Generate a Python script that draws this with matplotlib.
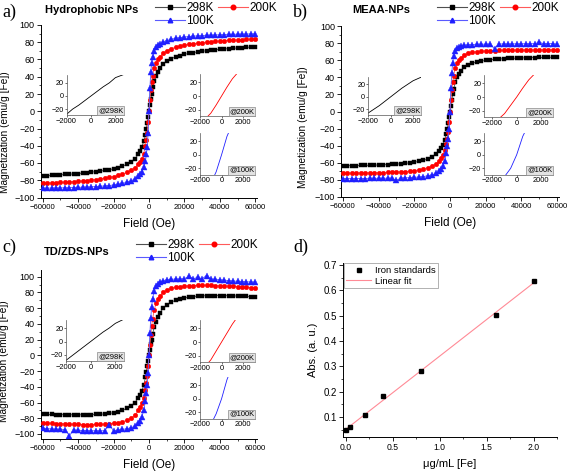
import numpy as np
import matplotlib
matplotlib.use("Agg")
import matplotlib.pyplot as plt
from matplotlib.lines import Line2D
from matplotlib.ticker import MultipleLocator

plt.rcParams['font.family'] = ['Liberation Sans', 'DejaVu Sans']

# ---------------- data ----------------
field = [-60000, -57500, -55000, -52500, -50000, -47500, -45000, -42500, -40000, -37500,
         -35000, -32500, -30000, -27500, -25000, -22500, -20000, -17500, -15000, -12500,
         -10000, -8000, -6000, -5000, -4000, -3000, -2000, -1500, -1000, -500,
         0,
         500, 1000, 1500, 2000, 3000, 4000, 5000, 6000, 8000,
         10000, 12500, 15000, 17500, 20000, 22500, 25000, 27500, 30000, 32500,
         35000, 37500, 40000, 42500, 45000, 47500, 50000, 52500, 55000, 57500, 60000]

a_298K = [-74.8, -74.6, -74.3, -74, -73.7, -73.3, -73, -72.6, -72.2, -71.7,
          -71.2, -70.6, -70, -69.3, -68.6, -67.8, -66.8, -65.6, -63.8, -61.5,
          -58.5, -55, -50, -46, -41, -35, -28, -20, -14, -7,
          0,
          7, 14, 20, 28, 35, 41, 46, 50, 55,
          58, 61, 63, 64.5, 66, 67, 68, 68.8, 69.5, 70.2,
          70.8, 71.3, 71.8, 72.2, 72.6, 73, 73.4, 73.8, 74.1, 74.4, 74.7]
a_200K = [-83.5, -83.3, -83.1, -82.9, -82.6, -82.3, -82, -81.6, -81.2, -80.8,
          -80.3, -79.8, -79.2, -78.5, -77.7, -76.8, -75.7, -74.4, -72.8, -70.8,
          -68.5, -65.5, -61.5, -58.5, -55, -49, -40, -33, -25, -13,
          0,
          13, 25, 34, 41, 50, 56, 60, 63, 67,
          70, 72.5, 74.2, 75.5, 76.6, 77.5, 78.3, 79, 79.6, 80.1,
          80.6, 81, 81.4, 81.8, 82.1, 82.4, 82.7, 83, 83.2, 83.4, 83.6]
a_100K = [-89.3, -89.2, -89.1, -89, -88.9, -88.8, -88.6, -88.5, -88.3, -88.1,
          -87.9, -87.6, -87.3, -87, -86.6, -86.1, -85.5, -84.7, -83.7, -82.3,
          -80.5, -78.5, -75.5, -73, -70, -65, -58, -50, -42, -25,
          0,
          27, 45, 56, 63, 70, 74, 76.5, 78, 80.5,
          82, 83.5, 84.6, 85.4, 86, 86.6, 87, 87.4, 87.7, 88,
          88.2, 88.4, 88.6, 88.8, 89, 89.1, 89.3, 89.4, 89.5, 89.6, 89.7]

b_298K = [-63.5, -63.4, -63.3, -63.2, -63.1, -63, -62.9, -62.7, -62.5, -62.3,
          -62.1, -61.8, -61.5, -61.1, -60.6, -60, -59.3, -58.4, -57.2, -55.5,
          -53, -50, -46, -43, -39, -33, -26, -20, -14, -7,
          0,
          7, 14, 20, 26, 34, 40, 44, 47.5, 52,
          54.5, 56.5, 58, 59, 59.8, 60.5, 61, 61.4, 61.7, 62,
          62.2, 62.4, 62.6, 62.8, 63, 63.1, 63.2, 63.3, 63.4, 63.5, 63.6]
b_200K = [-72, -72, -72, -71.9, -71.9, -71.8, -71.8, -71.7, -71.6, -71.5,
          -71.3, -71.1, -70.9, -70.6, -70.2, -69.8, -69.2, -68.4, -67.3, -65.8,
          -63.8, -61.5, -57.5, -54.5, -50.5, -45, -38, -32, -24, -12,
          0,
          13, 25, 34, 42, 51, 56.5, 60, 62.5, 66,
          68, 69.2, 70, 70.4, 70.8, 71, 71.2, 71.4, 71.5, 71.6,
          71.7, 71.8, 71.8, 71.9, 71.9, 72, 72, 72, 72.1, 72.1, 72.1]
b_100K = [-78.5, -78.5, -78.5, -78.4, -78.4, -78.4, -78.3, -78.3, -78.2, -78.2,
          -78.1, -78, -80.5, -77.8, -77.6, -77.4, -77.1, -76.7, -76.1, -75.2,
          -74, -72.5, -70, -67.5, -64, -58, -48, -40, -32, -20,
          0,
          27, 45, 57, 65, 71, 74, 75.5, 76.5, 77.5,
          78, 78.3, 78.5, 78.6, 78.7, 78.8, 73.5, 78.9, 79, 79,
          79.1, 79.1, 79.2, 79.2, 79.3, 79.3, 81, 79.4, 79.4, 79.4, 78.5]

c_298K = [-75, -75.1, -75.2, -75.3, -75.4, -75.5, -75.6, -75.6, -75.6, -75.6,
          -75.5, -75.4, -75.2, -74.9, -74.5, -73.9, -73, -71.8, -70, -67.5,
          -64, -60, -54, -50, -45, -38, -28, -21, -14, -7,
          0,
          7, 14, 20, 27, 36, 43, 49, 53.5, 60,
          64, 67.5, 70, 71.8, 73, 74, 74.7, 75.2, 75.6, 75.9,
          76, 76, 76, 75.9, 75.8, 75.6, 75.4, 75.2, 75, 74.8, 74.6]
c_200K = [-86, -86.2, -86.5, -86.8, -87, -87.2, -87.4, -87.6, -87.8, -88,
          -88, -88, -87.9, -87.8, -87.6, -87.2, -86.6, -85.8, -84.5, -82.5,
          -80, -76, -70, -66, -61, -54, -44, -35, -26, -13,
          0,
          13, 26, 37, 46, 58, 66, 71, 75, 80,
          83, 85, 86.5, 87.3, 88, 88.3, 88.6, 88.8, 89, 89,
          88.8, 88.6, 88.4, 88.2, 88, 87.6, 87.2, 86.8, 86.5, 86.2, 86]
c_100K = [-93, -93.3, -93.6, -94, -94.3, -94.6, -102, -95.2, -95.4, -95.6,
          -95.8, -96, -96, -96, -96, -88.5, -95.8, -95, -94.3, -93.3,
          -92, -90, -86, -83, -78, -70, -58, -48, -38, -22,
          0,
          28, 48, 62, 72, 82, 88, 91, 93, 95,
          96, 96.5, 97, 97, 97.5, 100.5, 97.5, 99, 97.5, 101.5,
          97, 96.5, 96, 95.5, 95, 94.5, 94, 93.8, 93.5, 93.2, 93]

temps = ['298K', '200K', '100K']

conc = [0.0, 0.04, 0.2, 0.4, 0.8, 1.6, 2.0]
absorb = [0.048, 0.059, 0.108, 0.182, 0.280, 0.503, 0.636]

# ---------------- figure ----------------
W, H = 570, 476
fig = plt.figure(figsize=(W / 100, H / 100), dpi=100)


def ax_px(l, t, r, b):
    return fig.add_axes([l / W, 1 - b / H, (r - l) / W, (b - t) / H])


def fx(x):
    return x / W


def fy(y):
    return 1 - y / H


mark_col = ['black', '#ff0000', '#1f1fff']
line_col = ['#505050', '#ff5a5a', '#5a5aff']
markers = ['s', 'o', '^']
msizes = [3.0, 3.3, 3.7]


def style_axes(ax, xs, ys):
    for s in ['top', 'right']:
        ax.spines[s].set_visible(False)
    for s in ['left', 'bottom']:
        ax.spines[s].set_linewidth(0.7)
    ax.tick_params(which='major', direction='out', length=3, width=0.6, pad=1.5)
    ax.tick_params(which='minor', direction='out', length=1.6, width=0.5)
    ax.tick_params(axis='x', labelsize=xs)
    ax.tick_params(axis='y', labelsize=ys)


def mag_panel(box, ylim, data, title, title_xy, letter, letter_xy, leg_xy, ylab_pos, insets):
    ax = ax_px(*box)
    for vals, mc, lc, mk, ms in zip(data, mark_col, line_col, markers, msizes):
        ax.plot(field, vals, color=lc, lw=0.6, marker=mk, ms=ms,
                mfc=mc, mec=mc, mew=0.3, zorder=3)
    ax.set_xlim(-61000, 61000)
    ax.set_ylim(*ylim)
    ax.set_xticks([-60000, -40000, -20000, 0, 20000, 40000, 60000])
    ax.set_yticks(np.arange(-100, 101, 20))
    ax.xaxis.set_minor_locator(MultipleLocator(10000))
    ax.yaxis.set_minor_locator(MultipleLocator(10))
    style_axes(ax, 5.6, 6.5)
    ax.set_xlabel('Field (Oe)', fontsize=8.5, labelpad=5)
    ax.set_ylabel('Magnetization (emu/g [Fe])', fontsize=7.3)
    ax.yaxis.set_label_coords(*ylab_pos)
    fig.text(fx(title_xy[0]), fy(title_xy[1]), title, fontsize=8, fontweight='bold',
             ha='left', va='center')
    fig.text(fx(letter_xy[0]), fy(letter_xy[1]), letter, fontsize=13,
             family='Liberation Serif', ha='left', va='center')
    handles = [Line2D([], [], color=lc, lw=0.8, marker=mk, ms=3.3, mfc=mc, mec=mc)
               for mc, lc, mk in zip(mark_col, line_col, markers)]
    # column-major filling: first column 298K/100K, second column 200K
    order = [0, 2, 1]
    fig.legend([handles[i] for i in order], [temps[i] for i in order], loc='upper left',
               bbox_to_anchor=(fx(leg_xy[0]), fy(leg_xy[1])),
               ncol=2, frameon=False, fontsize=8.5, handlelength=2.5, handletextpad=0.15,
               columnspacing=0.35, labelspacing=0.1, borderpad=0.1, borderaxespad=0)
    for (ib, xl, yl), vals, lc, t in zip(insets, data, mark_col, temps):
        ia = ax_px(*ib)
        ia.plot(field, vals, color=lc, lw=0.6)
        ia.set_xlim(*xl)
        ia.set_ylim(*yl)
        ia.set_xticks([-2000, 0, 2000])
        ia.set_yticks([-20, 0, 20])
        for s in ['top', 'right']:
            ia.spines[s].set_visible(False)
        for s in ['left', 'bottom']:
            ia.spines[s].set_linewidth(0.5)
            ia.spines[s].set_color('#555555')
        ia.tick_params(direction='out', length=1.2, width=0.4, pad=0.8, colors='black')
        ia.tick_params(axis='x', labelsize=5.4)
        ia.tick_params(axis='y', labelsize=5.2)
        ia.patch.set_alpha(0)
        ia.text(0.99, 0.02, '@' + t, transform=ia.transAxes, ha='right', va='bottom',
                fontsize=5.4, bbox=dict(boxstyle='square,pad=0.12', fc='#e2e2e2',
                                        ec='#8a8a8a', lw=0.5))
    return ax


# panel a
lim298 = (-2000, 2700)
limT = (-1400, 3100)
yl = (-29, 32)
mag_panel((41, 25, 257, 197.5), (-100, 100), [a_298K, a_200K, a_100K],
          'Hydrophobic NPs', (45, 10), 'a)', (2, 12), (154, 1), (-0.145, 0.38),
          [((66.5, 75, 124, 115), lim298, yl),
           ((200, 74, 255, 116), limT, yl),
           ((200, 133, 255, 174.5), limT, yl)])

# panel b
mag_panel((341.2, 26, 558.8, 197), (-100, 100), [b_298K, b_200K, b_100K],
          'MEAA-NPs', (352, 10), 'b)', (293, 12), (436, 1), (-0.152, 0.41),
          [((368, 77, 421, 115), lim298, yl),
           ((484, 75, 553, 117), (-2700, 3000), yl),
           ((484, 133, 553, 174.5), (-2700, 3000), yl)])

# panel c
mag_panel((41, 270.4, 257, 438.7), (-106, 108), [c_298K, c_200K, c_100K],
          'TD/ZDS-NPs', (44, 252), 'c)', (2, 247), (135, 238), (-0.15, 0.46),
          [((66, 320, 124, 361), lim298, yl),
           ((200, 320, 255, 362), limT, yl),
           ((200, 377, 255, 418.5), limT, yl)])

# panel d
axd = ax_px(343, 262.5, 557, 437)
axd.plot(conc, absorb, ls='none', marker='s', ms=3.3, color='black', zorder=3,
         label='Iron standards')
coef = np.polyfit(conc, absorb, 1)
xf = np.array([min(conc), max(conc)])
axd.plot(xf, np.polyval(coef, xf), color='#ff8a96', lw=0.8, label='Linear fit', zorder=2)
axd.set_xlim(-0.03, 2.25)
axd.set_ylim(0.021, 0.71)
axd.set_xticks([0.0, 0.5, 1.0, 1.5, 2.0])
axd.set_yticks([0.1, 0.2, 0.3, 0.4, 0.5, 0.6, 0.7])
axd.xaxis.set_minor_locator(MultipleLocator(0.25))
axd.yaxis.set_minor_locator(MultipleLocator(0.05))
axd.xaxis.set_major_formatter(matplotlib.ticker.FormatStrFormatter('%.1f'))
axd.yaxis.set_major_formatter(matplotlib.ticker.FormatStrFormatter('%.1f'))
style_axes(axd, 6.2, 7)
axd.set_xlabel('μg/mL [Fe]', fontsize=8, labelpad=5)
axd.set_ylabel('Abs. (a. u.)', fontsize=8, labelpad=4)
leg = axd.legend(loc='upper left', fontsize=6.8, frameon=True, fancybox=False,
                 edgecolor='#777777', handlelength=2.6, handletextpad=0.4,
                 borderpad=0.25, labelspacing=0.2, borderaxespad=0.1)
leg.get_frame().set_linewidth(0.5)
fig.text(fx(293), fy(247), 'd)', fontsize=13, family='Liberation Serif', ha='left', va='center')

fig.savefig('out.png', dpi=100)
